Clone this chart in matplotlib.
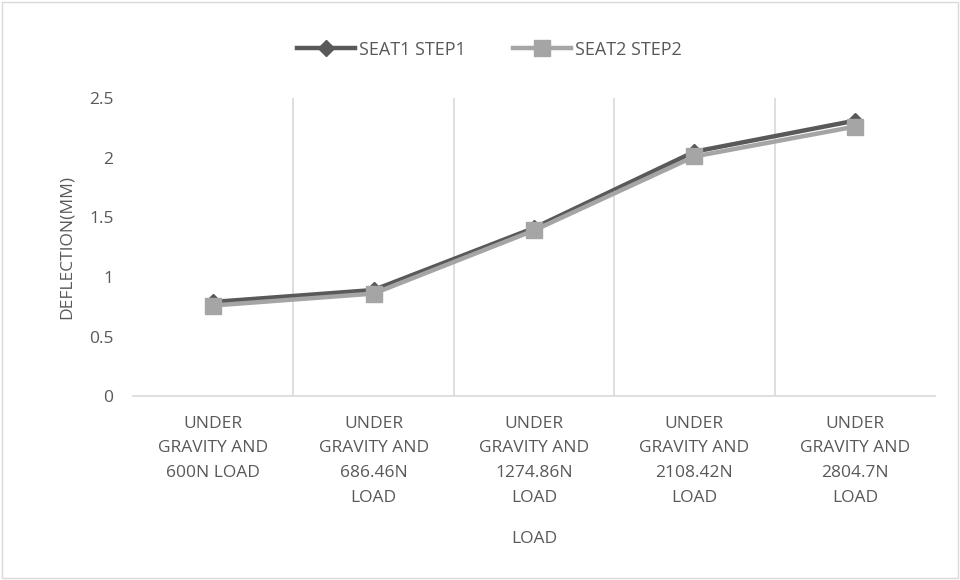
import matplotlib
matplotlib.use("Agg")
import matplotlib.pyplot as plt
from matplotlib.patches import Rectangle

plt.rcParams['font.family'] = ['Open Sans', 'DejaVu Sans']

categories = [
    "UNDER\nGRAVITY AND\n600N LOAD",
    "UNDER\nGRAVITY AND\n686.46N\nLOAD",
    "UNDER\nGRAVITY AND\n1274.86N\nLOAD",
    "UNDER\nGRAVITY AND\n2108.42N\nLOAD",
    "UNDER\nGRAVITY AND\n2804.7N\nLOAD",
]
seat1_step1 = [0.79, 0.89, 1.41, 2.05, 2.31]
seat2_step2 = [0.76, 0.86, 1.39, 2.01, 2.26]
y_ticks = [0, 0.5, 1, 1.5, 2, 2.5]
y_tick_labels = ["0", "0.5", "1", "1.5", "2", "2.5"]

text_color = "#595959"
grid_color = "#d9d9d9"

fig = plt.figure(figsize=(9.6, 5.8), dpi=100)
ax = fig.add_axes([0.1385, 0.317, 0.8355, 0.514])

x = list(range(len(categories)))
ax.plot(x, seat1_step1, color="#595959", lw=3.2, marker="D", ms=8,
        label="SEAT1 STEP1", zorder=3)
ax.plot(x, seat2_step2, color="#a5a5a5", lw=3.2, marker="s", ms=11,
        label="SEAT2 STEP2", zorder=4)

ax.set_xlim(-0.5, len(categories) - 0.5)
ax.set_ylim(0, 2.5)
ax.set_yticks(y_ticks)
ax.set_yticklabels(y_tick_labels)
ax.set_xticks(x)
ax.set_xticklabels(categories, linespacing=1.74, fontsize=12.5)

# vertical gridlines between categories
for b in range(1, len(categories)):
    ax.axvline(b - 0.5, color=grid_color, lw=1.2, zorder=1)

for s in ["top", "right", "left"]:
    ax.spines[s].set_visible(False)
ax.spines["bottom"].set_color(grid_color)
ax.spines["bottom"].set_linewidth(1.2)

ax.tick_params(axis="both", length=0, colors=text_color)
ax.tick_params(axis="y", pad=14, labelsize=12.5)
ax.tick_params(axis="x", pad=14)

ax.set_ylabel("DEFLECTION(MM)", color=text_color, fontsize=12.5, labelpad=10)
ax.set_xlabel("LOAD", color=text_color, fontsize=12.5, labelpad=18)

fig.legend(loc="upper center", bbox_to_anchor=(0.51, 0.958), ncol=2,
           frameon=False, fontsize=13, labelcolor=text_color,
           handlelength=3.2, columnspacing=2.6, handletextpad=0.25)

fig.patches.append(Rectangle((0.002, 0.003), 0.996, 0.994, transform=fig.transFigure,
                             fill=False, edgecolor=grid_color, lw=1))

fig.savefig("out.png", dpi=100)
